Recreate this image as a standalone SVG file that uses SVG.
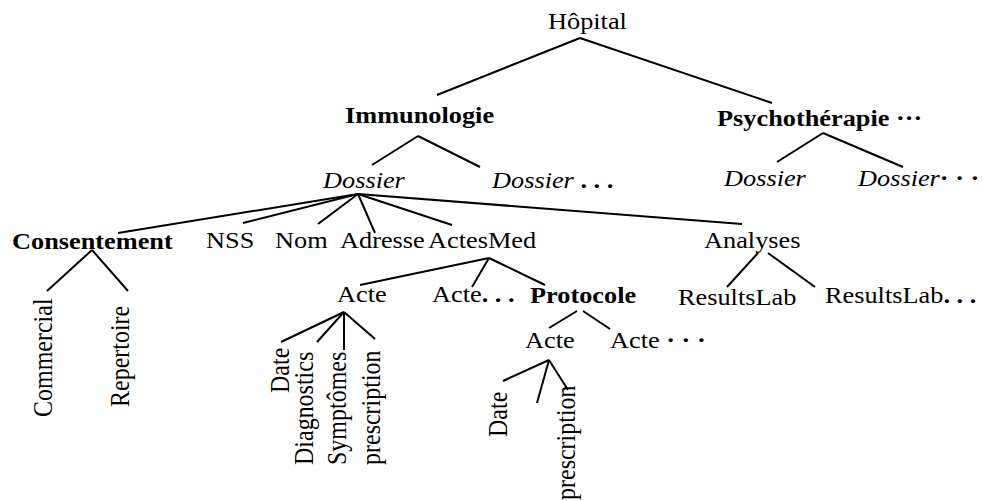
<svg xmlns="http://www.w3.org/2000/svg" width="983" height="501" viewBox="0 0 983 501">
<style>
text{font-family:"Liberation Serif","Times New Roman",serif;font-size:23.5px;fill:#000}
.b{font-weight:bold}
.i{font-style:italic}
.r{font-size:24px}
#edges line{stroke:#000;stroke-width:2;stroke-linecap:butt}
</style>
<rect width="983" height="501" fill="#fff"/>
<g id="edges">
<line x1="580" y1="38" x2="437" y2="95"/>
<line x1="580" y1="38" x2="772" y2="103"/>
<line x1="418" y1="136" x2="372" y2="165"/>
<line x1="418" y1="136" x2="480" y2="167"/>
<line x1="823" y1="133" x2="777" y2="162"/>
<line x1="823" y1="133" x2="903" y2="167"/>
<line x1="358" y1="194" x2="118" y2="233"/>
<line x1="358" y1="194" x2="243" y2="223"/>
<line x1="358" y1="194" x2="318" y2="224"/>
<line x1="358" y1="194" x2="375" y2="233"/>
<line x1="358" y1="194" x2="452" y2="225"/>
<line x1="358" y1="194" x2="742" y2="224"/>
<line x1="92" y1="250" x2="47" y2="291"/>
<line x1="92" y1="250" x2="128" y2="291"/>
<line x1="489" y1="258" x2="360" y2="285"/>
<line x1="489" y1="258" x2="472" y2="287"/>
<line x1="489" y1="258" x2="545" y2="285"/>
<line x1="758" y1="253" x2="727" y2="287"/>
<line x1="768" y1="253" x2="815" y2="287"/>
<line x1="577" y1="311" x2="549" y2="328"/>
<line x1="583" y1="311" x2="610" y2="329"/>
<line x1="344" y1="312" x2="281" y2="342"/>
<line x1="344" y1="312" x2="317" y2="342"/>
<line x1="344" y1="312" x2="344" y2="350"/>
<line x1="344" y1="312" x2="375" y2="339"/>
<line x1="549" y1="360" x2="503" y2="381"/>
<line x1="549" y1="360" x2="537" y2="403"/>
<line x1="549" y1="360" x2="568" y2="390"/>
</g>
<g id="hopital"><text transform="translate(548,29) scale(1.12,1)">Hôpital</text></g>
<g id="immunologie"><text class="b" transform="translate(345,123) scale(1.12,1)">Immunologie</text></g>
<g id="psychotherapie"><text class="b" transform="translate(717,126) scale(1.12,1)">Psychothérapie ···</text></g>
<g id="dossier1"><text class="i" transform="translate(323,188) scale(1.12,1)">Dossier</text></g>
<g id="dossier2"><text transform="translate(492,188) scale(1.12,1)"><tspan class="i">Dossier</tspan><tspan class="b"> . . .</tspan></text></g>
<g id="dossier3"><text class="i" transform="translate(724,186) scale(1.12,1)">Dossier</text></g>
<g id="dossier4"><text transform="translate(858,186) scale(1.12,1)"><tspan class="i">Dossier</tspan><tspan class="b">· · ·</tspan></text></g>
<g id="consentement"><text class="b" transform="translate(12,249) scale(1.12,1)">Consentement</text></g>
<g id="nss"><text transform="translate(206,248) scale(1.12,1)">NSS</text></g>
<g id="nom"><text transform="translate(275,248) scale(1.12,1)">Nom</text></g>
<g id="adresse"><text transform="translate(340,248) scale(1.12,1)">Adresse</text></g>
<g id="actesmed"><text transform="translate(428,248) scale(1.12,1)">ActesMed</text></g>
<g id="analyses"><text transform="translate(704,248) scale(1.12,1)">Analyses</text></g>
<g id="commercial"><text class="r" transform="translate(52,417) scale(1.12,1) rotate(-90)">Commercial</text></g>
<g id="repertoire"><text class="r" transform="translate(129,407) scale(1.12,1) rotate(-90)">Repertoire</text></g>
<g id="acte1"><text transform="translate(337,302) scale(1.12,1)">Acte</text></g>
<g id="acte2"><text transform="translate(432,302) scale(1.12,1)">Acte<tspan class="b">. . .</tspan></text></g>
<g id="protocole"><text class="b" transform="translate(530,303) scale(1.12,1)">Protocole</text></g>
<g id="resultslab1"><text transform="translate(678,305) scale(1.12,1)">ResultsLab</text></g>
<g id="resultslab2"><text transform="translate(825,303) scale(1.12,1)">ResultsLab<tspan class="b">. . .</tspan></text></g>
<g id="date1"><text class="r" transform="translate(289,393) scale(1.12,1) rotate(-90)">Date</text></g>
<g id="diagnostics"><text class="r" transform="translate(313,465) scale(1.12,1) rotate(-90)">Diagnostics</text></g>
<g id="symptomes"><text class="r" transform="translate(346,465) scale(1.12,1) rotate(-90)">Symptômes</text></g>
<g id="prescription1"><text class="r" transform="translate(380,465) scale(1.12,1) rotate(-90)">prescription</text></g>
<g id="acte3"><text transform="translate(525,348) scale(1.12,1)">Acte</text></g>
<g id="acte4"><text transform="translate(610,348) scale(1.12,1)">Acte<tspan class="b"> · · ·</tspan></text></g>
<g id="date2"><text class="r" transform="translate(507,437) scale(1.12,1) rotate(-90)">Date</text></g>
<g id="prescription2"><text class="r" transform="translate(575,500) scale(1.12,1) rotate(-90)">prescription</text></g>
</svg>
